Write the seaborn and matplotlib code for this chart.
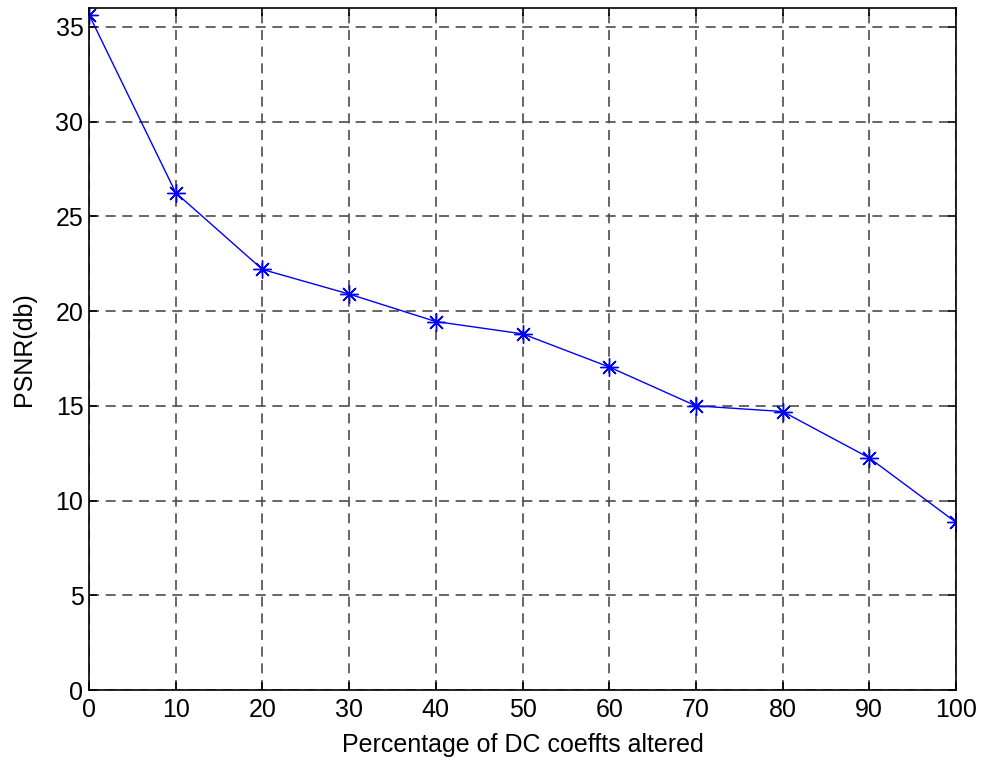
import matplotlib
matplotlib.use("Agg")
import matplotlib.pyplot as plt
import seaborn as sns
import pandas as pd

percent_altered = [0, 10, 20, 30, 40, 50, 60, 70, 80, 90, 100]
psnr_db = [35.65, 26.25, 22.2, 20.9, 19.45, 18.8, 17.05, 15.0, 14.7, 12.25, 8.85]
x_ticks = [0, 10, 20, 30, 40, 50, 60, 70, 80, 90, 100]
y_ticks = [0, 5, 10, 15, 20, 25, 30, 35]

sns.set_style("white")
plt.rcParams['font.family'] = ['Liberation Sans', 'DejaVu Sans']
plt.rcParams['text.color'] = 'black'
plt.rcParams['axes.labelcolor'] = 'black'

df = pd.DataFrame({"x": percent_altered, "y": psnr_db})

fig = plt.figure(figsize=(9.82, 7.61), dpi=100)
ax = fig.add_axes([89/982, 1-690/761, (956-89)/982, (690-8)/761])

sns.lineplot(data=df, x="x", y="y", ax=ax, color="#0000ff", linewidth=1.0,
             marker=(8, 2, 0), markersize=13, markeredgecolor="#0000ff",
             markerfacecolor="#0000ff", markeredgewidth=1.0)

ax.set_xlim(0, 100)
ax.set_ylim(0, 36)
ax.set_xticks(x_ticks)
ax.set_yticks(y_ticks)
ax.set_xticklabels([str(t) for t in x_ticks], fontsize=18)
ax.set_yticklabels([str(t) for t in y_ticks], fontsize=18)
ax.set_xlabel("Percentage of DC coeffts altered", fontsize=18, labelpad=8, color="black")
ax.set_ylabel("PSNR(db)", fontsize=18, labelpad=14, color="black")

ax.grid(True, color="0.3", linestyle=(0, (6, 4)), linewidth=1.2)
ax.set_axisbelow(True)
for s in ax.spines.values():
    s.set_visible(True)
    s.set_color("black")
    s.set_linewidth(1.2)
ax.tick_params(direction="in", length=6, width=1.2, top=True, right=True,
               bottom=True, left=True, colors="black", pad=6)
ax.tick_params(axis="y", pad=4)

fig.savefig("out.png", dpi=100, facecolor="white")
